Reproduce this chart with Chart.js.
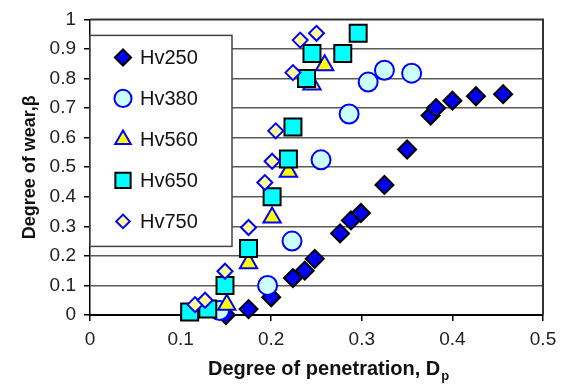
<!DOCTYPE html>
<html>
<head>
<meta charset="utf-8">
<script src="https://cdn.jsdelivr.net/npm/chart.js@4.4.0/dist/chart.umd.min.js"></script>
<style>
html,body{margin:0;padding:0;background:#fff;}
#wrap{width:569px;height:385px;}
</style>
</head>
<body>
<div id="wrap"><canvas id="chart" width="569" height="385"></canvas></div>
<script>
// data
const seriesNames = ['Hv250', 'Hv380', 'Hv560', 'Hv650', 'Hv750'];

const hv250X = [0.15, 0.175, 0.2, 0.224, 0.237, 0.248, 0.276, 0.288, 0.299, 0.325, 0.35, 0.376, 0.382, 0.40, 0.426, 0.456];
const hv250Y = [0.0, 0.02, 0.06, 0.125, 0.15, 0.19, 0.276, 0.32, 0.345, 0.44, 0.56, 0.675, 0.70, 0.725, 0.74, 0.747];

const hv380X = [0.143, 0.196, 0.223, 0.255, 0.286, 0.307, 0.325, 0.355];
const hv380Y = [0.015, 0.10, 0.25, 0.525, 0.68, 0.788, 0.828, 0.818];

const hv560X = [0.151, 0.175, 0.201, 0.219, 0.245, 0.259];
const hv560Y = [0.035, 0.175, 0.33, 0.485, 0.78, 0.845];

const hv650X = [0.11, 0.13, 0.149, 0.175, 0.201, 0.219, 0.224, 0.239, 0.245, 0.279, 0.296];
const hv650Y = [0.01, 0.02, 0.10, 0.225, 0.40, 0.528, 0.636, 0.80, 0.885, 0.885, 0.953];

const hv750X = [0.116, 0.127, 0.149, 0.175, 0.193, 0.201, 0.205, 0.224, 0.232, 0.25];
const hv750Y = [0.035, 0.05, 0.148, 0.296, 0.448, 0.52, 0.623, 0.82, 0.93, 0.953];

const xTicks = [0, 0.1, 0.2, 0.3, 0.4, 0.5];
const xTickLabels = ['0', '0.1', '0.2', '0.3', '0.4', '0.5'];
const yTicks = [0, 0.1, 0.2, 0.3, 0.4, 0.5, 0.6, 0.7, 0.8, 0.9, 1];
const yTickLabels = ['0', '0.1', '0.2', '0.3', '0.4', '0.5', '0.6', '0.7', '0.8', '0.9', '1'];

const FONT = "'Liberation Sans', Arial, sans-serif";

function pts(xs, ys) {
    return xs.map((x, i) => ({x: x, y: ys[i]}));
}

// marker looks, same order as seriesNames
const styles = [
    {pointStyle: 'rectRot', radius: 9, bg: '#0000ee', border: '#000000'},
    {pointStyle: 'circle', radius: 9.5, bg: '#ccffff', border: '#0000ff'},
    {pointStyle: 'triangle', radius: 10, bg: '#ffff00', border: '#0000ff'},
    {pointStyle: 'rect', radius: 12, bg: '#00ffff', border: '#000000'},
    {pointStyle: 'rectRot', radius: 7.5, bg: '#ffff99', border: '#0000ff'}
];
const allData = [pts(hv250X, hv250Y), pts(hv380X, hv380Y), pts(hv560X, hv560Y), pts(hv650X, hv650Y), pts(hv750X, hv750Y)];

const datasets = seriesNames.map((name, i) => ({
    label: name,
    data: allData[i],
    pointStyle: styles[i].pointStyle,
    pointRadius: styles[i].radius,
    pointHoverRadius: styles[i].radius,
    backgroundColor: styles[i].bg,
    borderColor: styles[i].border,
    pointBorderWidth: 2,
    showLine: false,
    clip: false,
    order: seriesNames.length - i // last series on top, like excel
}));

// top and right frame lines + legend box inside the plot
const framePlugin = {
    id: 'frame',
    beforeDatasetsDraw(chart) {
        const c = chart.ctx, a = chart.chartArea;
        c.save();
        c.strokeStyle = '#333';
        c.lineWidth = 2;
        c.beginPath();
        c.moveTo(a.left, a.top);
        c.lineTo(a.right, a.top);
        c.lineTo(a.right, a.bottom);
        c.stroke();

        // legend
        const bx = a.left, by = a.top + 16, bw = 142, bh = 211;
        c.fillStyle = '#fff';
        c.fillRect(bx, by, bw, bh);
        c.strokeStyle = '#444';
        c.lineWidth = 1.5;
        c.strokeRect(bx, by, bw, bh);
        c.font = '20px ' + FONT;
        c.textBaseline = 'middle';
        c.textAlign = 'left';
        chart.data.datasets.forEach((ds, i) => {
            const yy = by + 22 + i * 41;
            c.fillStyle = ds.backgroundColor;
            c.strokeStyle = ds.borderColor;
            c.lineWidth = 2;
            Chart.helpers.drawPoint(c, {pointStyle: ds.pointStyle, radius: ds.pointRadius * 0.9, rotation: 0, borderWidth: 2}, bx + 33, yy);
            c.fillStyle = '#111';
            c.fillText(ds.label, bx + 50, yy + 1);
        });
        c.restore();
    },
    afterDraw(chart) {
        // x axis title with subscript p
        const c = chart.ctx;
        c.save();
        c.fillStyle = '#111';
        c.textBaseline = 'alphabetic';
        c.textAlign = 'left';
        c.font = 'bold 20px ' + FONT;
        const t = 'Degree of penetration, D';
        const x0 = 208, y0 = 375;
        c.fillText(t, x0, y0);
        const w = c.measureText(t).width;
        c.font = 'bold 13px ' + FONT;
        c.fillText('p', x0 + w + 1, y0 + 5);
        c.restore();
    }
};

const ctx = document.getElementById('chart').getContext('2d');
const grafico = new Chart(ctx, {
    type: 'scatter',
    data: {datasets: datasets},
    plugins: [framePlugin],
    options: {
        responsive: false,
        animation: false,
        devicePixelRatio: 1,
        layout: {padding: {top: 18, right: 26, left: 0, bottom: 0}},
        plugins: {legend: {display: false}, tooltip: {enabled: false}},
        scales: {
            x: {
                type: 'linear',
                min: 0,
                max: 0.5,
                afterBuildTicks: s => { s.ticks = xTicks.map(v => ({value: v})); },
                afterFit: s => { s.height = 70; },
                ticks: {
                    callback: (v, i) => xTickLabels[i],
                    font: {family: FONT, size: 19},
                    color: '#222',
                    padding: 7,
                    maxRotation: 0
                },
                grid: {drawOnChartArea: false, drawTicks: true, tickLength: 6, color: '#000', lineWidth: 1.5},
                border: {display: true, color: '#000', width: 2}
            },
            y: {
                type: 'linear',
                min: 0,
                max: 1,
                afterBuildTicks: s => { s.ticks = yTicks.map(v => ({value: v})); },
                afterFit: s => { s.width = 90; },
                ticks: {
                    callback: (v, i) => yTickLabels[i],
                    font: {family: FONT, size: 19},
                    color: '#222',
                    padding: 8
                },
                grid: {
                    color: c => (c.tick && (c.tick.value === 0 || c.tick.value === 1)) ? 'rgba(0,0,0,0)' : '#5a5a5a',
                    tickColor: '#000',
                    lineWidth: 1.5,
                    tickLength: 6
                },
                border: {display: true, color: '#000', width: 1.5},
                title: {
                    display: true,
                    text: 'Degree of wear,β',
                    font: {family: FONT, size: 18, weight: 'bold'},
                    color: '#111',
                    padding: {top: 19, bottom: 0}
                }
            }
        }
    }
});
</script>
</body>
</html>
